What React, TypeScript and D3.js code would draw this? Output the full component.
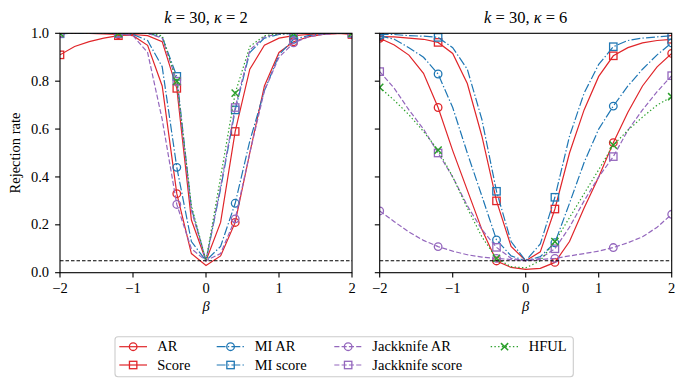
import React from 'react';
import * as d3 from 'd3';

// ---------- data ----------
const BETA = [-2, -1.8, -1.6, -1.4, -1.2, -1.0, -0.8, -0.6, -0.4, -0.2, 0, 0.2, 0.4, 0.6, 0.8, 1.0, 1.2, 1.4, 1.6, 1.8, 2.0];

const SERIES_NAMES = ['AR', 'Score', 'MI AR', 'MI score', 'Jackknife AR', 'Jackknife score', 'HFUL'];

const PANEL_TITLES = [
  { k: '30', kappa: '2' },
  { k: '30', kappa: '6' },
];

// k = 30, kappa = 2
const K2_AR = [1.0, 1.0, 1.0, 0.998, 0.995, 0.99, 0.95, 0.78, 0.33, 0.08, 0.03, 0.07, 0.21, 0.5, 0.78, 0.92, 0.965, 0.985, 0.995, 1.0, 1.0];
const K2_SCORE = [0.91, 0.945, 0.965, 0.98, 0.99, 0.995, 0.99, 0.965, 0.77, 0.22, 0.05, 0.21, 0.59, 0.85, 0.95, 0.98, 0.99, 0.995, 0.998, 1.0, 0.995];
const K2_MI_AR = [1.0, 1.0, 1.0, 1.0, 1.0, 0.995, 0.97, 0.86, 0.44, 0.13, 0.05, 0.11, 0.29, 0.55, 0.76, 0.91, 0.975, 0.99, 0.998, 1.0, 1.0];
const K2_MI_SCORE = [0.998, 1.0, 1.0, 1.0, 1.0, 1.0, 1.0, 0.985, 0.82, 0.27, 0.05, 0.35, 0.68, 0.92, 0.98, 0.995, 1.0, 1.0, 1.0, 1.0, 1.0];
const K2_JK_AR = [1.0, 1.0, 1.0, 1.0, 1.0, 0.99, 0.92, 0.64, 0.285, 0.1, 0.05, 0.08, 0.225, 0.5, 0.76, 0.9, 0.96, 0.985, 0.995, 1.0, 1.0];
const K2_JK_SCORE = [1.0, 1.0, 1.0, 1.0, 1.0, 1.0, 1.0, 0.98, 0.8, 0.26, 0.05, 0.36, 0.69, 0.93, 0.985, 0.998, 1.0, 1.0, 1.0, 1.0, 1.0];
const K2_HFUL = [1.0, 1.0, 1.0, 1.0, 1.0, 1.0, 1.0, 0.99, 0.8, 0.28, 0.05, 0.4, 0.75, 0.945, 0.99, 0.998, 1.0, 1.0, 1.0, 1.0, 1.0];

// k = 30, kappa = 6
const K6_AR = [0.979, 0.951, 0.909, 0.833, 0.69, 0.51, 0.345, 0.18, 0.049, 0.022, 0.014, 0.018, 0.043, 0.13, 0.27, 0.4, 0.543, 0.67, 0.78, 0.86, 0.916];
const K6_SCORE = [0.986, 0.985, 0.98, 0.975, 0.962, 0.916, 0.79, 0.57, 0.3, 0.11, 0.05, 0.087, 0.266, 0.5, 0.68, 0.82, 0.906, 0.94, 0.96, 0.97, 0.975];
const K6_MI_AR = [0.99, 0.975, 0.94, 0.9, 0.83, 0.69, 0.5, 0.32, 0.137, 0.07, 0.05, 0.067, 0.125, 0.29, 0.46, 0.6, 0.696, 0.78, 0.85, 0.91, 0.96];
const K6_MI_SCORE = [0.995, 0.995, 0.99, 0.988, 0.983, 0.94, 0.85, 0.64, 0.34, 0.13, 0.05, 0.12, 0.315, 0.57, 0.75, 0.87, 0.944, 0.97, 0.98, 0.985, 0.99];
const K6_JK_AR = [0.258, 0.213, 0.17, 0.135, 0.109, 0.09, 0.075, 0.065, 0.06, 0.055, 0.05, 0.055, 0.06, 0.07, 0.08, 0.09, 0.105, 0.125, 0.15, 0.19, 0.244];
const K6_JK_SCORE = [0.84, 0.77, 0.68, 0.6, 0.5, 0.4, 0.28, 0.18, 0.106, 0.06, 0.05, 0.06, 0.1, 0.19, 0.3, 0.4, 0.485, 0.595, 0.68, 0.756, 0.823];
const K6_HFUL = [0.774, 0.72, 0.66, 0.59, 0.512, 0.4, 0.27, 0.15, 0.06, 0.025, 0.02, 0.05, 0.13, 0.23, 0.33, 0.43, 0.533, 0.595, 0.65, 0.7, 0.735];

const PANEL_DATA = [
  [K2_AR, K2_SCORE, K2_MI_AR, K2_MI_SCORE, K2_JK_AR, K2_JK_SCORE, K2_HFUL],
  [K6_AR, K6_SCORE, K6_MI_AR, K6_MI_SCORE, K6_JK_AR, K6_JK_SCORE, K6_HFUL],
];

const X_TICKS = [-2, -1, 0, 1, 2];
const Y_TICKS = [0, 0.2, 0.4, 0.6, 0.8, 1.0];
const NOMINAL_LEVEL = 0.05;
const MARK_EVERY = 4;

// ---------- styles ----------
const RED = '#e0262a';
const BLUE = '#1f77b4';
const PURPLE = '#9467bd';
const GREEN = '#2ca02c';
const STYLE = [
  { color: RED, dash: '', marker: 'circle' },
  { color: RED, dash: '', marker: 'square' },
  { color: BLUE, dash: '8.9,2.2,1.4,2.2', marker: 'circle' },
  { color: BLUE, dash: '8.9,2.2,1.4,2.2', marker: 'square' },
  { color: PURPLE, dash: '5.1,2.2', marker: 'circle' },
  { color: PURPLE, dash: '5.1,2.2', marker: 'square' },
  { color: GREEN, dash: '1.4,2.3', marker: 'x' },
];

const FONT = 'Liberation Serif';
const FS = 14.5;

const W = 688;
const H = 389;
const TOP = 33.3;
const BOTTOM = 272.7;
const PANELS_X = [
  [60, 352],
  [379.7, 671.7],
];

function Marker({ type, x, y, color }: { type: string; x: number; y: number; color: string }) {
  const sw = 1.3;
  if (type === 'circle') {
    return <circle cx={x} cy={y} r={3.8} fill="none" stroke={color} strokeWidth={sw} />;
  }
  if (type === 'square') {
    const s = 3.7;
    return <rect x={x - s} y={y - s} width={2 * s} height={2 * s} fill="none" stroke={color} strokeWidth={sw} />;
  }
  const s = 3.6;
  return (
    <path
      d={`M${x - s},${y - s}L${x + s},${y + s}M${x - s},${y + s}L${x + s},${y - s}`}
      stroke={color}
      strokeWidth={1.5}
      fill="none"
    />
  );
}

function Panel({ idx }: { idx: number }) {
  const [x0, x1] = PANELS_X[idx];
  const x = d3.scaleLinear().domain([-2, 2]).range([x0, x1]);
  const y = d3.scaleLinear().domain([0, 1]).range([BOTTOM, TOP]);
  const line = d3
    .line<number>()
    .x((_, i) => x(BETA[i]))
    .y((d) => y(d));
  const clipId = `clip-${idx}`;
  const fx = d3.format('');
  const fy = d3.format('.1f');
  const title = PANEL_TITLES[idx];
  const cx = (x0 + x1) / 2;
  return (
    <g>
      <defs>
        <clipPath id={clipId}>
          <rect x={x0} y={TOP} width={x1 - x0} height={BOTTOM - TOP} />
        </clipPath>
      </defs>
      <g clipPath={`url(#${clipId})`}>
        {PANEL_DATA[idx].map((vals, s) => (
          <g key={s}>
            <path
              d={line(vals) || ''}
              fill="none"
              stroke={STYLE[s].color}
              strokeWidth={1.2}
              strokeDasharray={STYLE[s].dash || undefined}
            />
            {vals.map((v, i) =>
              i % MARK_EVERY === 0 ? (
                <Marker key={i} type={STYLE[s].marker} x={x(BETA[i])} y={y(v)} color={STYLE[s].color} />
              ) : null
            )}
          </g>
        ))}
        <line
          x1={x0}
          x2={x1}
          y1={y(NOMINAL_LEVEL)}
          y2={y(NOMINAL_LEVEL)}
          stroke="#000"
          strokeWidth={1.1}
          strokeDasharray="3.5,2"
        />
      </g>
      <rect x={x0} y={TOP} width={x1 - x0} height={BOTTOM - TOP} fill="none" stroke="#000" strokeWidth={1.1} />
      {X_TICKS.map((t) => (
        <g key={t}>
          <line x1={x(t)} x2={x(t)} y1={BOTTOM} y2={BOTTOM + 4.9} stroke="#000" strokeWidth={1.1} />
          <text x={x(t)} y={293.3} textAnchor="middle" fontFamily={FONT} fontSize={FS}>
            {fx(t)}
          </text>
        </g>
      ))}
      {Y_TICKS.map((t) => (
        <g key={t}>
          <line x1={x0 - 4.9} x2={x0} y1={y(t)} y2={y(t)} stroke="#000" strokeWidth={1.1} />
          {idx === 0 ? (
            <text x={x0 - 11} y={y(t) + 4.6} textAnchor="end" fontFamily={FONT} fontSize={FS}>
              {fy(t)}
            </text>
          ) : null}
        </g>
      ))}
      <text x={cx} y={310.5} textAnchor="middle" fontFamily={FONT} fontSize={FS} fontStyle="italic">
        β
      </text>
      <text x={cx} y={22.5} textAnchor="middle" fontFamily={FONT} fontSize={16.5} style={{ whiteSpace: 'pre' }}>
        <tspan fontStyle="italic">k</tspan>
        <tspan>{` = ${title.k}, `}</tspan>
        <tspan fontStyle="italic">κ</tspan>
        <tspan>{` = ${title.kappa}`}</tspan>
      </text>
      {idx === 0 ? (
        <text
          transform={`translate(19.5, ${(TOP + BOTTOM) / 2}) rotate(-90)`}
          textAnchor="middle"
          fontFamily={FONT}
          fontSize={FS}
        >
          Rejection rate
        </text>
      ) : null}
    </g>
  );
}

function Legend() {
  const colX = [119.3, 216.7, 334.3, 490.7];
  const rowY = [346.7, 365];
  const handleLen = 27.7;
  return (
    <g>
      <rect x={115} y={336.7} width={458.3} height={40} rx={3} ry={3} fill="#fff" fillOpacity={0.8} stroke="#cccccc" strokeWidth={1.1} />
      {SERIES_NAMES.map((name, s) => {
        const col = Math.floor(s / 2);
        const row = s % 2;
        const hx = colX[col];
        const hy = rowY[row];
        return (
          <g key={name}>
            <line
              x1={hx}
              x2={hx + handleLen}
              y1={hy}
              y2={hy}
              stroke={STYLE[s].color}
              strokeWidth={1.2}
              strokeDasharray={STYLE[s].dash || undefined}
            />
            <Marker type={STYLE[s].marker} x={hx + handleLen / 2} y={hy} color={STYLE[s].color} />
            <text x={hx + 38} y={hy + 4.7} fontFamily={FONT} fontSize={FS}>
              {name}
            </text>
          </g>
        );
      })}
    </g>
  );
}

export default function App() {
  return (
    <svg
      width={W}
      height={H}
      viewBox={`0 0 ${W} ${H}`}
      style={{ position: 'absolute', left: 0, top: 0, background: '#fff' }}
    >
      <rect x={0} y={0} width={W} height={H} fill="#fff" />
      <Panel idx={0} />
      <Panel idx={1} />
      <Legend />
    </svg>
  );
}
